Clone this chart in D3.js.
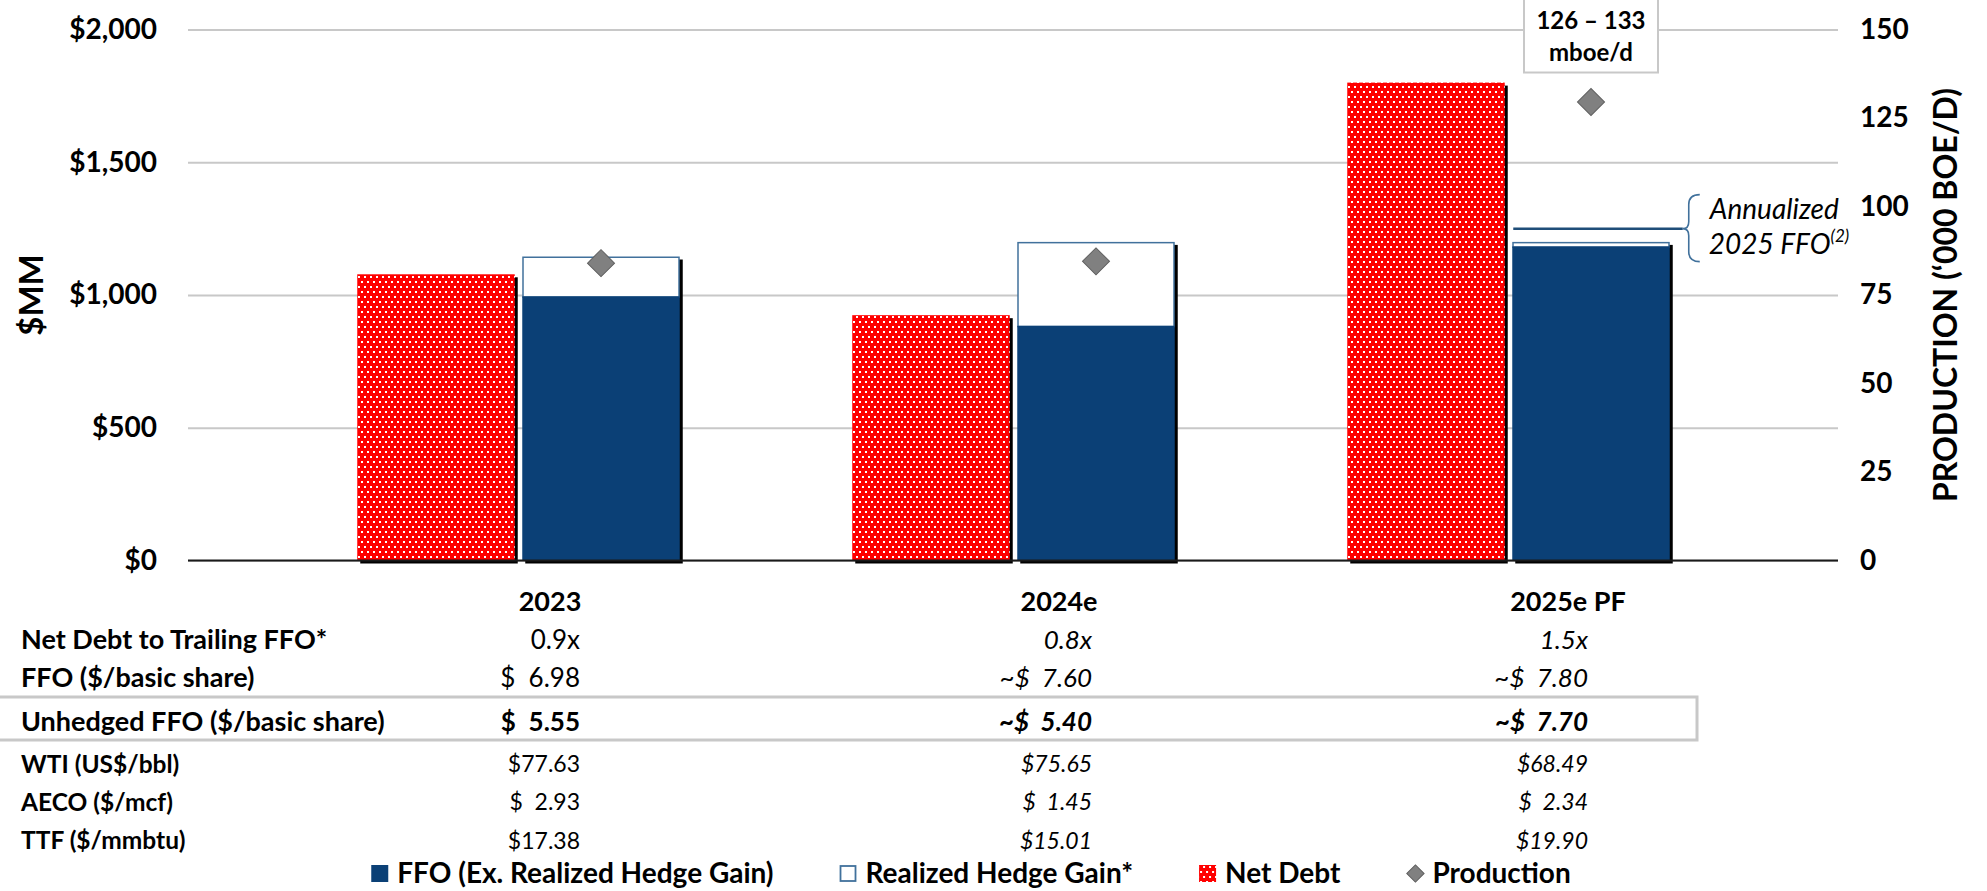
<!DOCTYPE html>
<html>
<head>
<meta charset="utf-8">
<script src="https://cdn.jsdelivr.net/npm/d3@7"></script>
<style>
  body { margin: 0; background: #fff; }
  svg { font-family: Lato, "Open Sans", sans-serif; display: block; }
</style>
</head>
<body>
<div id="chart"></div>
<script>
// ---- data ----
const categories = ["2023", "2024e", "2025e PF"];
const netDebt = [1078, 924, 1800];
const ffoExHedge = [995, 884, 1183];
const hedgeGain = [150, 316, 17];
const production = [84, 84.5, 129.5];
const annualizedFfo2025 = 1250;
const productionRangeLabel = ["126 – 133", "mboe/d"];

const leftTicks = [0, 500, 1000, 1500, 2000];
const rightTicks = [0, 25, 50, 75, 100, 125, 150];

const rowLabels = ["Net Debt to Trailing FFO*", "FFO ($/basic share)", "Unhedged FFO ($/basic share)",
  "WTI (US$/bbl)", "AECO ($/mcf)", "TTF ($/mmbtu)"];
const netDebtToFfo = ["0.9x", "0.8x", "1.5x"];
const ffoPerShare = ["$  6.98", "~$  7.60", "~$  7.80"];
const unhedgedFfoPerShare = ["$  5.55", "~$  5.40", "~$  7.70"];
const wti = ["$77.63", "$75.65", "$68.49"];
const aeco = ["$  2.93", "$  1.45", "$  2.34"];
const ttf = ["$17.38", "$15.01", "$19.90"];

const legendLabels = ["FFO (Ex. Realized Hedge Gain)", "Realized Hedge Gain*", "Net Debt", "Production"];

// ---- layout ----
const width = 1987, height = 891;
const plotLeft = 188, plotRight = 1838;
const font = "Lato, 'Open Sans', sans-serif";
const blue = "#0b4076", red = "#ff0000", hedgeStroke = "#41719c", grid = "#c8c8c8";

const svg = d3.select("#chart").append("svg")
  .attr("width", width).attr("height", height);

const defs = svg.append("defs");
const pat = defs.append("pattern").attr("id", "dots")
  .attr("patternUnits", "userSpaceOnUse").attr("width", 6).attr("height", 10);
pat.append("rect").attr("width", 6).attr("height", 10).attr("fill", red);
pat.append("rect").attr("x", 1).attr("y", 1).attr("width", 2).attr("height", 2).attr("fill", "#fff");
pat.append("rect").attr("x", 4).attr("y", 6).attr("width", 2).attr("height", 2).attr("fill", "#fff");

const y = d3.scaleLinear().domain([0, 2000]).range([560.5, 29.5]);
const yProd = d3.scaleLinear().domain([0, 150]).range([560.5, 29.5]);

const x0 = d3.scaleBand().domain(categories).range([271, 1756]);
const x1 = d3.scaleBand().domain(["debt", "ffo"]).range([0, x0.bandwidth()])
  .paddingInner(0.0455).paddingOuter(0.5227);

// gridlines + left axis
const leftAxis = svg.append("g")
  .attr("transform", `translate(${plotLeft},0)`)
  .call(d3.axisLeft(y).tickValues(leftTicks)
    .tickFormat(d => "$" + d3.format(",")(d))
    .tickSizeInner(-(plotRight - plotLeft)).tickSizeOuter(0).tickPadding(31))
  .attr("font-family", font);
leftAxis.select(".domain").remove();
leftAxis.selectAll(".tick line").attr("stroke", grid).attr("stroke-width", 2);
leftAxis.selectAll(".tick text").attr("font-size", 28).attr("font-weight", 700).attr("fill", "#000");

const rightAxis = svg.append("g")
  .attr("transform", `translate(${plotRight},0)`)
  .call(d3.axisRight(yProd).tickValues(rightTicks).tickSize(0).tickPadding(22))
  .attr("font-family", font);
rightAxis.select(".domain").remove();
rightAxis.selectAll(".tick text").attr("font-size", 28).attr("font-weight", 700).attr("fill", "#000");

// axis titles
svg.append("text")
  .attr("transform", `translate(31,${(y(0) + y(2000)) / 2}) rotate(-90)`)
  .attr("text-anchor", "middle").attr("dy", "0.35em")
  .attr("font-size", 33).attr("font-weight", 700).text("$MM");
svg.append("text")
  .attr("transform", `translate(1946,${(y(0) + y(2000)) / 2}) rotate(-90)`)
  .attr("text-anchor", "middle").attr("dy", "0.35em")
  .attr("font-size", 32).attr("font-weight", 700).text("PRODUCTION (‘000 BOE/D)");

// bars
const bars = categories.map((c, i) => ({
  cat: c, debt: netDebt[i], ffo: ffoExHedge[i], hedge: hedgeGain[i], prod: production[i]
}));
const shadow = 3;
const g = svg.append("g");

// net debt
g.selectAll(".debt-shadow").data(bars).enter().append("rect")
  .attr("x", d => x0(d.cat) + x1("debt") + shadow)
  .attr("y", d => y(d.debt) + shadow)
  .attr("width", x1.bandwidth())
  .attr("height", d => y(0) - y(d.debt))
  .attr("fill", "#000");
g.selectAll(".debt").data(bars).enter().append("rect")
  .attr("x", d => x0(d.cat) + x1("debt"))
  .attr("y", d => y(d.debt))
  .attr("width", x1.bandwidth())
  .attr("height", d => y(0) - y(d.debt))
  .attr("fill", "url(#dots)");

// ffo + hedge stack
g.selectAll(".ffo-shadow").data(bars).enter().append("rect")
  .attr("x", d => x0(d.cat) + x1("ffo") + shadow)
  .attr("y", d => y(d.ffo + d.hedge) + shadow)
  .attr("width", x1.bandwidth())
  .attr("height", d => y(0) - y(d.ffo + d.hedge))
  .attr("fill", "#000");
g.selectAll(".hedge").data(bars).enter().append("rect")
  .attr("x", d => x0(d.cat) + x1("ffo") + 0.75)
  .attr("y", d => y(d.ffo + d.hedge) + 0.75)
  .attr("width", x1.bandwidth() - 1.5)
  .attr("height", d => y(d.ffo) - y(d.ffo + d.hedge))
  .attr("fill", "#fff").attr("stroke", hedgeStroke).attr("stroke-width", 1.5);
g.selectAll(".ffo").data(bars).enter().append("rect")
  .attr("x", d => x0(d.cat) + x1("ffo"))
  .attr("y", d => y(d.ffo))
  .attr("width", x1.bandwidth())
  .attr("height", d => y(0) - y(d.ffo))
  .attr("fill", blue);

// baseline
svg.append("line")
  .attr("x1", plotLeft).attr("x2", plotRight)
  .attr("y1", y(0)).attr("y2", y(0))
  .attr("stroke", "#1a1a1a").attr("stroke-width", 2);

// production diamonds
const diamond = d3.symbol().type(d3.symbolSquare).size(365);
g.selectAll(".prod").data(bars).enter().append("path")
  .attr("d", diamond)
  .attr("transform", d => `translate(${x0(d.cat) + x1("ffo") + x1.bandwidth() / 2},${yProd(d.prod)}) rotate(45)`)
  .attr("fill", "#808080").attr("stroke", "#5f5f5f").attr("stroke-width", 1);

// production range callout (2025e PF)
const last = bars[bars.length - 1];
const cx = x0(last.cat) + x1("ffo") + x1.bandwidth() / 2;
const callout = svg.append("g");
callout.append("rect")
  .attr("x", cx - 67).attr("y", -2).attr("width", 134).attr("height", 74.5)
  .attr("fill", "#fff").attr("stroke", grid).attr("stroke-width", 2);
callout.selectAll("text").data(productionRangeLabel).enter().append("text")
  .attr("x", cx).attr("y", (d, i) => 29 + i * 32)
  .attr("text-anchor", "middle").attr("font-size", 24).attr("font-weight", 700)
  .text(d => d);

// annualized 2025 FFO marker and brace
const ya = y(annualizedFfo2025);
const bl = x0(last.cat) + x1("ffo"), br = bl + x1.bandwidth();
svg.append("line")
  .attr("x1", bl + 1).attr("x2", br + 13).attr("y1", ya).attr("y2", ya)
  .attr("stroke", "#1f4e79").attr("stroke-width", 2.5);
const bx = br + 13;
svg.append("path")
  .attr("d", `M${bx + 17},${ya - 34} Q${bx + 6},${ya - 34} ${bx + 6},${ya - 24} L${bx + 6},${ya - 7} Q${bx + 6},${ya} ${bx},${ya} Q${bx + 6},${ya} ${bx + 6},${ya + 7} L${bx + 6},${ya + 23} Q${bx + 6},${ya + 33} ${bx + 17},${ya + 33}`)
  .attr("fill", "none").attr("stroke", hedgeStroke).attr("stroke-width", 1.6);
svg.append("text")
  .attr("x", bx + 27).attr("y", ya - 10)
  .attr("font-size", 28).attr("font-style", "italic").text("Annualized");
const t2 = svg.append("text")
  .attr("x", bx + 26).attr("y", ya + 25)
  .attr("font-size", 28).attr("font-style", "italic");
t2.append("tspan").text("2025 FFO");
t2.append("tspan").attr("font-size", 17).attr("dy", -12).text("(2)");

// ---- table ----
const headerX = d3.scalePoint().domain(categories).range([550, 1568]);
const valueX = d3.scaleLinear().domain([0, 1, 2]).range([580, 1092, 1588]);
const rowValues = [netDebtToFfo, ffoPerShare, unhedgedFfoPerShare, wti, aeco, ttf];
const rowY = [640, 678, 721.5, 764, 802, 840.5];
const rowSize = [27, 27, 27, 24.5, 24.5, 24.5];
const valueSize = [26, 26, 26, 23, 23, 23];
const boldRow = 2;

svg.append("rect")
  .attr("x", -3).attr("y", 697).attr("width", 1700).attr("height", 43)
  .attr("fill", "none").attr("stroke", grid).attr("stroke-width", 3);

svg.selectAll(".header").data(categories).enter().append("text")
  .attr("x", d => headerX(d)).attr("y", 601.5).attr("dy", "0.35em")
  .attr("text-anchor", "middle").attr("font-size", 27).attr("font-weight", 700)
  .text(d => d);

const rows = svg.selectAll(".row").data(rowLabels).enter().append("g")
  .attr("transform", (d, i) => `translate(0,${rowY[i]})`);
rows.append("text")
  .attr("x", 21).attr("dy", "0.35em")
  .attr("font-size", (d, i) => rowSize[i]).attr("font-weight", 700)
  .text(d => d);
rows.each(function (label, ri) {
  d3.select(this).selectAll(".val").data(rowValues[ri]).enter().append("text")
    .attr("x", (d, ci) => valueX(ci)).attr("dy", "0.35em")
    .attr("text-anchor", "end")
    .attr("font-size", valueSize[ri])
    .attr("font-weight", ri === boldRow ? 700 : 400)
    .attr("font-style", (d, ci) => ci === 0 ? "normal" : "italic")
    .style("white-space", "pre")
    .text(d => d);
});

// ---- legend ----
const legend = svg.append("g");
const ly = 873.5;
let lx = 0;
legendLabels.forEach((label, i) => {
  const item = legend.append("g").attr("transform", `translate(${lx},0)`);
  if (i === 0) {
    item.append("rect").attr("y", ly - 8.5).attr("width", 17).attr("height", 17).attr("fill", blue);
  } else if (i === 1) {
    item.append("rect").attr("x", 1).attr("y", ly - 7.5).attr("width", 15).attr("height", 15)
      .attr("fill", "#fff").attr("stroke", hedgeStroke).attr("stroke-width", 1.8);
  } else if (i === 2) {
    item.append("rect").attr("y", ly - 8.5).attr("width", 17).attr("height", 17).attr("fill", "url(#dots)");
  } else {
    item.append("path").attr("d", d3.symbol().type(d3.symbolSquare).size(150))
      .attr("transform", `translate(9,${ly}) rotate(45)`)
      .attr("fill", "#808080").attr("stroke", "#5f5f5f");
  }
  const t = item.append("text").attr("x", 26).attr("y", ly).attr("dy", "0.35em")
    .attr("font-size", 28).attr("font-weight", 700).text(label);
  lx += 26 + t.node().getComputedTextLength() + 66;
});
const lw = lx - 66;
legend.attr("transform", `translate(${971 - lw / 2},0)`);
</script>
</body>
</html>
